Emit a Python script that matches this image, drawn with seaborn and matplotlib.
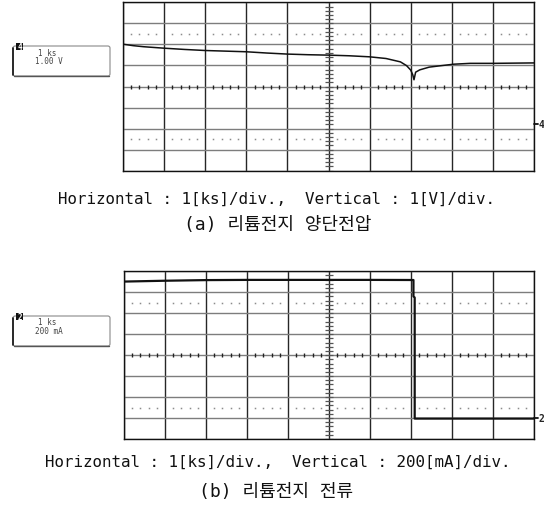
import numpy as np
import pandas as pd
import matplotlib
matplotlib.use("Agg")
import matplotlib.pyplot as plt
import matplotlib.transforms as mtransforms
from matplotlib.patches import FancyBboxPatch, Rectangle
from matplotlib.lines import Line2D
import seaborn as sns

# Lithium battery terminal voltage: time [ks], voltage [V]
volt_time = [0.00, 0.25, 0.50, 1.00, 1.50, 2.00, 2.50, 3.00, 3.50, 4.00, 4.50,
             5.00, 5.50, 6.00, 6.40, 6.75, 6.90, 7.00, 7.05, 7.08, 7.12, 7.22,
             7.45, 7.70, 8.05, 8.45, 9.00, 10.00]
volt_value = [3.79, 3.72, 3.67, 3.60, 3.54, 3.49, 3.46, 3.43, 3.37, 3.32, 3.29,
              3.27, 3.24, 3.19, 3.11, 2.95, 2.77, 2.56, 2.34, 2.10, 2.46, 2.57,
              2.70, 2.76, 2.84, 2.88, 2.88, 2.90]

# Lithium battery current: time [ks], current [mA]
curr_time = [0.00, 0.50, 1.00, 2.00, 3.00, 4.00, 5.00, 6.00, 7.00, 7.06, 7.06,
             7.09, 7.09, 8.00, 9.00, 10.00]
curr_value = [1302, 1306, 1310, 1316, 1318, 1318, 1318, 1318, 1317, 1317, 1160,
              1150, -5, -5, -5, -5]

# Scope settings shown beside each screen
time_div = "1 ks"
volt_div = "1.00 V"
curr_div = "200 mA"
volt_channel = "4"
curr_channel = "2"

cap_a1 = "Horizontal : 1[ks]/div.,  Vertical : 1[V]/div."
cap_a2 = "(a) 리튬전지 양단전압"
cap_b1 = "Horizontal : 1[ks]/div.,  Vertical : 200[mA]/div."
cap_b2 = "(b) 리튬전지 전류"

sns.set_style("white")
FONT = ["DejaVu Sans Mono", "Noto Sans CJK KR"]
plt.rcParams["font.family"] = FONT

W, H = 544, 506
fig = plt.figure(figsize=(W / 100, H / 100), dpi=100)


def fx(x):
    return x / W


def fy(y):
    return 1 - y / H


def screen(left, top, right, bottom):
    return fig.add_axes([fx(left), fy(bottom), (right - left) / W, (bottom - top) / H])


def graticule(ax, ymin, step):
    ymax = ymin + 8 * step
    ax.set_xlim(0, 10)
    ax.set_ylim(ymin, ymax)
    ax.set_xticks(np.arange(0, 11))
    ax.set_yticks(ymin + step * np.arange(9))
    ax.tick_params(length=0, labelbottom=False, labelleft=False)
    ax.set_xlabel("")
    ax.set_ylabel("")
    ax.xaxis.grid(True, color="#262626", lw=1.0)
    ax.yaxis.grid(True, color="#7d7d7d", lw=1.0)
    ax.set_axisbelow(True)
    yc = ymin + 4 * step
    fine_x = np.round(np.arange(0, 10.001, 0.2), 6)
    minor_x = fine_x[np.abs(fine_x - np.round(fine_x)) > 1e-6]
    # centre cross with fine tick marks
    ax.plot(minor_x, np.full_like(minor_x, yc), ls="none", marker="|", ms=3.0,
            mew=1.0, color="#222222", zorder=1.5)
    fine_y = ymin + step * np.round(np.arange(0, 8.001, 0.2), 6)
    ax.plot(np.full_like(fine_y, 5.0), fine_y, ls="none", marker="_", ms=5.5,
            mew=0.9, color="#555555", zorder=1.5)
    # dotted rise/fall reference rows
    for k in (-2.5, 2.5):
        ax.plot(minor_x, np.full_like(minor_x, yc + k * step), ls="none", marker="s",
                ms=1.1, mew=0, color="#8c8c8c", zorder=1.5)
    for s in ax.spines.values():
        s.set_color("#111111")
        s.set_linewidth(1.0)


def info_box(top, channel, line1, line2):
    left, right, bottom = 13, 110, top + 30
    box = FancyBboxPatch((fx(left), fy(bottom)), (right - left) / W, (bottom - top) / H,
                         boxstyle="round,pad=0,rounding_size=0.004", transform=fig.transFigure,
                         fc="white", ec="#8a8a8a", lw=0.8)
    fig.add_artist(box)
    fig.add_artist(Line2D([fx(left), fx(left)], [fy(top + 2), fy(bottom - 1)],
                          transform=fig.transFigure, color="#111111", lw=1.2))
    fig.add_artist(Line2D([fx(left + 1), fx(right - 1)], [fy(bottom), fy(bottom)],
                          transform=fig.transFigure, color="#555555", lw=1.0))
    fig.add_artist(Rectangle((fx(16), fy(top + 4)), 7 / W, 7 / H, transform=fig.transFigure,
                             fc="#111111", ec="none"))
    fig.text(fx(19.5), fy(top + 0.5), channel, color="white", fontsize=5.5, fontweight="bold",
             ha="center", va="center")
    fig.text(fx(47.5), fy(top + 6.0), line1, fontsize=5.5, color="#444444", ha="center", va="center")
    fig.text(fx(48.5), fy(top + 15.0), line2, fontsize=5.5, color="#444444", ha="center", va="center")


def ground_marker(ax, channel):
    tr = mtransforms.blended_transform_factory(ax.transAxes, ax.transData)
    ax.plot([1.0, 1.009], [0, 0], transform=tr, color="#111111", lw=1.3, clip_on=False)
    ax.text(1.010, 0, channel, transform=tr, fontsize=7, fontweight="bold",
            ha="left", va="center", clip_on=False)


# (a) terminal voltage
ax1 = screen(123, 3.3, 534, 171.7)
graticule(ax1, -2.22, 1.0)
sns.lineplot(data=pd.DataFrame({"t": volt_time, "v": volt_value}), x="t", y="v", ax=ax1,
             estimator=None, sort=False, color="#111111", lw=1.1, zorder=3)
ax1.set_xlabel("")
ax1.set_ylabel("")
ground_marker(ax1, volt_channel)

# (b) current
ax2 = screen(124, 272.3, 534, 440)
graticule(ax2, -200, 200)
sns.lineplot(data=pd.DataFrame({"t": curr_time, "i": curr_value}), x="t", y="i", ax=ax2,
             estimator=None, sort=False, color="#111111", lw=1.6, zorder=3)
ax2.set_xlabel("")
ax2.set_ylabel("")
ground_marker(ax2, curr_channel)

info_box(47, volt_channel, time_div, volt_div)
info_box(317, curr_channel, time_div, curr_div)

fig.text(fx(277), fy(204), cap_a1, fontsize=11.4, ha="center", va="baseline", color="#111111")
fig.text(fx(277.5), fy(225.5), cap_a2, fontsize=13, ha="center", va="center", color="#111111")
fig.text(fx(277.5), fy(466.7), cap_b1, fontsize=11.4, ha="center", va="baseline", color="#111111")
fig.text(fx(276.5), fy(492.5), cap_b2, fontsize=13, ha="center", va="center", color="#111111")

fig.savefig("out.png", dpi=100)
